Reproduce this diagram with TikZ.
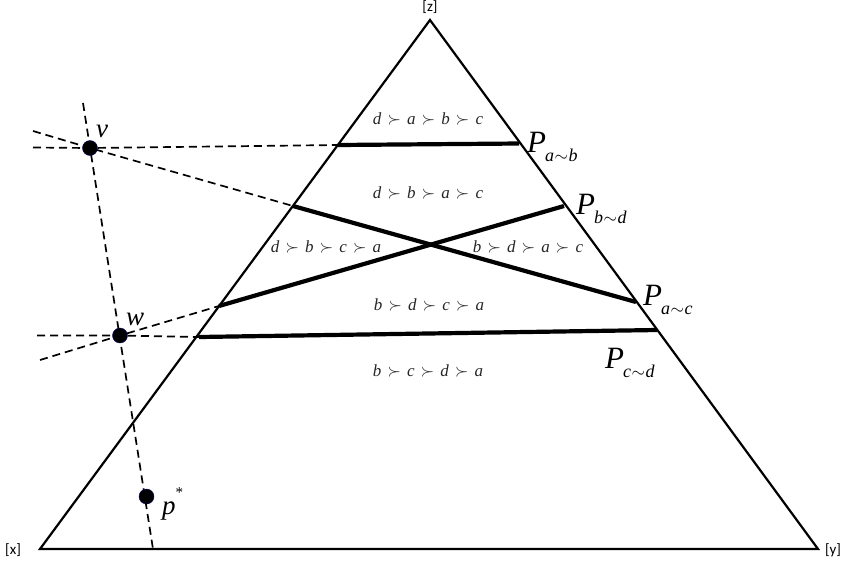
\documentclass[tikz,border=0pt]{standalone}
\usepackage{fontspec}
\setmainfont{Liberation Serif}
\newfontfamily\cornerfont{Carlito}
\usetikzlibrary{calc}
\newcommand{\gp}{\hspace{0.36em}$\succ$\hspace{0.36em}}
\newcommand{\pref}[4]{\textit{#1}\gp\textit{#2}\gp\textit{#3}\gp\textit{#4}}
\newcommand{\PP}[2]{\textit{P}\kern-1pt\raisebox{-0.3em}{\fontsize{18}{18}\selectfont\textit{#1}\kern0.5pt$\sim$\kern0.5pt\textit{#2}}}
\tikzset{
  side/.style={line width=2.2pt},
  cut/.style={line width=4.2pt},
  guide/.style={line width=1.7pt, dash pattern=on 8pt off 5pt},
  region/.style={font=\fontsize{17}{17}\selectfont, text=black!85, anchor=base, inner sep=0pt},
  plabel/.style={font=\fontsize{31}{31}\selectfont, anchor=base west, inner sep=0pt},
  ptlabel/.style={font=\fontsize{27}{27}\selectfont\itshape, inner sep=0pt},
  corner/.style={font=\cornerfont\fontsize{15}{15}\selectfont, inner sep=0pt},
  dot/.style={circle, fill=black, draw=blue!40!black, line width=0.4pt, minimum size=15pt, inner sep=0pt}
}
\begin{document}
\begin{tikzpicture}[x=1pt,y=-1pt]
\useasboundingbox (0,0) rectangle (843,566);
% triangle vertices
\coordinate (X) at (40,549);
\coordinate (Y) at (818,549);
\coordinate (Z) at (430,20);
% cut end points
\coordinate (ab1) at (338,145);
\coordinate (ab2) at (519,143.5);
\coordinate (bd1) at (219,306);
\coordinate (bd2) at (564,206);
\coordinate (ac1) at (293,206);
\coordinate (ac2) at (636,302);
\coordinate (cd1) at (199,337);
\coordinate (cd2) at (657,330);
% guide points
\coordinate (vL) at (33,147.5);
\coordinate (vL2) at (33,131);
\coordinate (wL) at (37,335.5);
\coordinate (wL2) at (40,360);
\coordinate (gtop) at (83,103);
\coordinate (gbot) at (153,549);
% dashed guides
\draw[guide] (vL) -- (90,148) -- (ab1);
\draw[guide] (vL2) -- (90,148) -- (ac1);
\draw[guide] (wL) -- (120,335.5) -- (cd1);
\draw[guide] (wL2) -- (120,335.5) -- (bd1);
\draw[guide] (gtop) -- (gbot);
% triangle
\draw[side, line join=miter] (X) -- (Z) -- (Y) -- cycle;
% cuts
\draw[cut] (ab1) -- (ab2);
\draw[cut] (bd1) -- (bd2);
\draw[cut] (ac1) -- (ac2);
\draw[cut] (cd1) -- (cd2);
% points
\node[dot] (v) at (90,148) {};
\node[dot] (w) at (120,335.5) {};
\node[dot] (p) at (146.5,496.5) {};
\node[ptlabel, anchor=base west] (vlab) at (96,137) {v};
\node[ptlabel, anchor=base west] (wlab) at (126,325) {w};
\node[ptlabel, anchor=base west] (plab) at (162,514) {p\raisebox{0.6em}{\fontsize{15}{15}\selectfont\upshape *}};
% region labels
\node[region] (r1) at (428,124) {\pref{d}{a}{b}{c}};
\node[region] (r2) at (428,198) {\pref{d}{b}{a}{c}};
\node[region] (r3) at (326,252) {\pref{d}{b}{c}{a}};
\node[region] (r4) at (528,252) {\pref{b}{d}{a}{c}};
\node[region] (r5) at (429,310) {\pref{b}{d}{c}{a}};
\node[region] (r6) at (428,376) {\pref{b}{c}{d}{a}};
% P labels
\node[plabel] (Pab) at (527,152) {\PP{a}{b}};
\node[plabel] (Pbd) at (576,214) {\PP{b}{d}};
\node[plabel] (Pac) at (643,305) {\PP{a}{c}};
\node[plabel] (Pcd) at (605,368) {\PP{c}{d}};
% corner labels
\node[corner] (zl) at (430,7) {[z]};
\node[corner] (xl) at (13,550) {[x]};
\node[corner] (yl) at (833,550) {[y]};
\end{tikzpicture}
\end{document}
